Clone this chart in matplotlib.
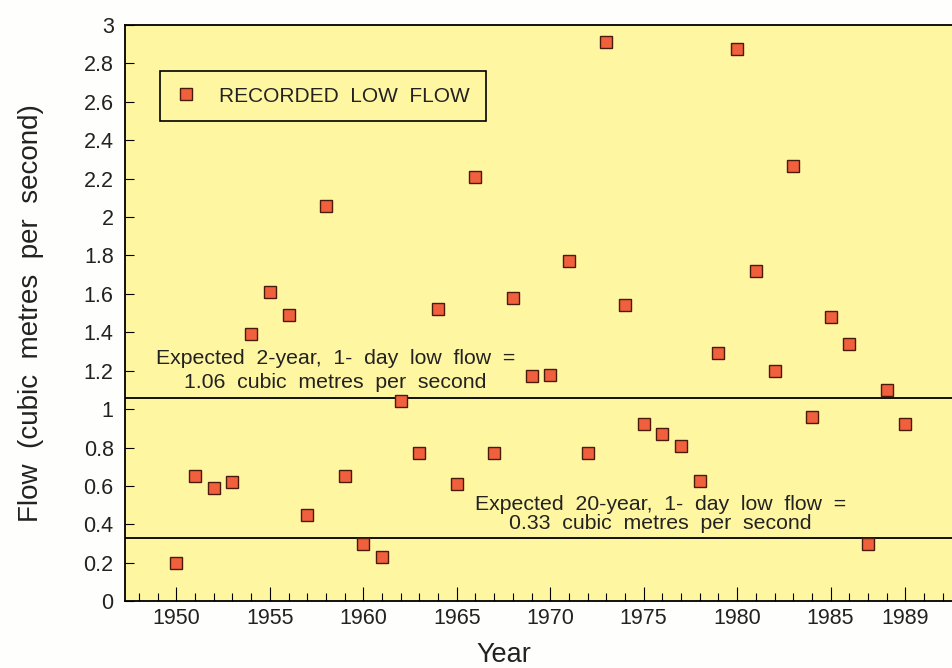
import numpy as np
import matplotlib
matplotlib.use("Agg")
import matplotlib.pyplot as plt
from matplotlib.ticker import MultipleLocator, FuncFormatter

plt.rcParams['font.family'] = ['Liberation Sans', 'DejaVu Sans']

# recorded annual 1-day low flow (m3/s)
years = list(range(1950, 1990))
flow = [0.20, 0.65, 0.59, 0.62, 1.39, 1.61, 1.49, 0.45, 2.06, 0.65,
        0.30, 0.23, 1.04, 0.77, 1.52, 0.61, 2.21, 0.77, 1.58, 1.17,
        1.18, 1.77, 0.77, 2.91, 1.54, 0.92, 0.87, 0.81, 0.625, 1.29,
        2.875, 1.72, 1.20, 2.265, 0.96, 1.48, 1.34, 0.30, 1.10, 0.92]

q2 = 1.06    # expected 2-year, 1-day low flow
q20 = 0.33   # expected 20-year, 1-day low flow

xticks = [1950, 1955, 1960, 1965, 1970, 1975, 1980, 1985, 1989]
yticks = np.arange(0, 3.01, 0.2)

bg = '#fff6a2'
red = '#f0603c'
ink = '#222222'

fig = plt.figure(figsize=(9.53, 6.68), dpi=100)
fig.patch.set_facecolor('#fefefc')
ax = fig.add_axes([0.131, 0.100, 0.869, 0.8626])
ax.set_facecolor(bg)

ax.plot(years, flow, 's', ms=8.5, mfc=red, mec='#4a1a0a', mew=1.0,
        label='RECORDED  LOW  FLOW', zorder=3)
ax.axhline(q2, color='black', lw=1.3, zorder=2)
ax.axhline(q20, color='black', lw=1.3, zorder=2)

ax.text(1958.5, 1.20, 'Expected  2-year,  1-  day  low  flow  =\n%.2f  cubic  metres  per  second' % q2,
        ha='center', va='center', fontsize=15.3, color=ink, linespacing=1.3)
ax.text(1975.9, 0.455, 'Expected  20-year,  1-  day  low  flow  =\n%.2f  cubic  metres  per  second' % q20,
        ha='center', va='center', fontsize=15.3, color=ink, linespacing=1.0)

ax.set_xlim(1947.24, 1991.55)
ax.set_ylim(0, 3)
ax.set_xticks(xticks)
ax.xaxis.set_minor_locator(MultipleLocator(1))
ax.set_yticks(yticks)
ax.yaxis.set_major_formatter(FuncFormatter(lambda v, p: '%g' % round(v, 1)))

ax.tick_params(axis='x', which='major', direction='in', length=10, width=0.8,
               labelsize=15.5, pad=5, top=False)
ax.tick_params(axis='x', which='minor', direction='in', length=6, width=0.8, top=False)
ax.tick_params(axis='y', which='major', direction='in', length=6.5, width=0.8,
               labelsize=15.5, pad=8, right=False)
for lab in ax.get_xticklabels() + ax.get_yticklabels():
    lab.set_color(ink)

ax.spines['right'].set_visible(False)
for s in ['left', 'bottom', 'top']:
    ax.spines[s].set_linewidth(1.3)

leg = ax.legend(loc='upper left', bbox_to_anchor=(0.0423, 0.920), borderaxespad=0,
                fontsize=15, fancybox=False, framealpha=1, facecolor=bg,
                edgecolor='black', handletextpad=1.1, borderpad=0.75,
                handlelength=1.0)
leg.get_frame().set_linewidth(1.2)
for t in leg.get_texts():
    t.set_color(ink)

ax.set_ylabel('Flow  (cubic  metres  per  second)', fontsize=20, color=ink)
ax.yaxis.set_label_coords(-0.098, 0.5)
fig.text(504 / 953, 1 - 662 / 668, 'Year', fontsize=19.5, ha='center', va='baseline', color=ink)

fig.savefig('out.png', dpi=100, facecolor=fig.get_facecolor())
